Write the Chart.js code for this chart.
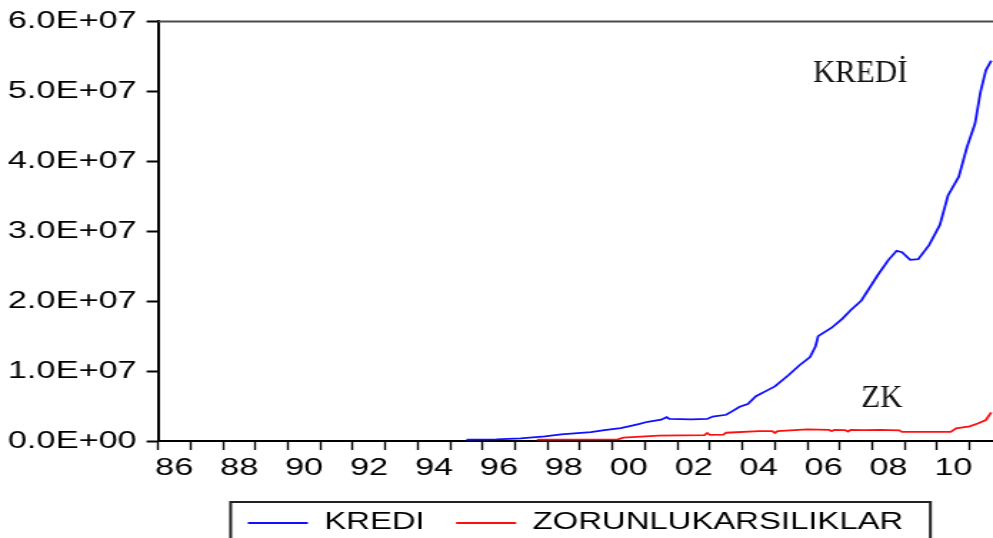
<!DOCTYPE html>
<html>
<head>
<meta charset="utf-8">
<title>KREDI ve ZORUNLUKARSILIKLAR</title>
<script src="https://cdn.jsdelivr.net/npm/chart.js@4.4.1/dist/chart.umd.min.js"></script>
<style>
  html, body { margin: 0; padding: 0; background: #fff; overflow: hidden; }
  #wrap { width: 993px; height: 538px; overflow: hidden; }
  #chart { display: block; transform-origin: 0 0; }
</style>
</head>
<body>
<div id="wrap"><canvas id="chart" width="695" height="538"></canvas></div>
<script>
// Observation dates (YYYY-MM) and values for each series
const krediDates = [
  '1995-07','1996-06','1997-03','1997-12','1998-06','1999-05','1999-10','2000-04',
  '2000-07','2000-11','2001-02','2001-07','2001-09','2001-10','2002-06','2002-12',
  '2003-02','2003-07','2003-09','2003-12','2004-03','2004-06','2004-10','2005-01',
  '2005-06','2005-10','2006-02','2006-04','2006-05','2006-10','2007-02','2007-05',
  '2007-09','2008-03','2008-07','2008-10','2008-12','2009-03','2009-06','2009-10',
  '2010-02','2010-05','2010-09','2010-12','2011-03','2011-05','2011-07','2011-09'
];
const krediValues = [
  200000, 220000, 380000, 670000, 950000, 1270000, 1570000, 1850000,
  2100000, 2450000, 2750000, 3050000, 3400000, 3150000, 3100000, 3150000,
  3500000, 3750000, 4200000, 4900000, 5300000, 6400000, 7200000, 7800000,
  9400000, 10800000, 12000000, 13500000, 15000000, 16200000, 17500000, 18700000,
  20100000, 23700000, 25900000, 27200000, 27000000, 25900000, 26000000, 28000000,
  30900000, 35100000, 37800000, 42000000, 45400000, 49900000, 53000000, 54400000
];

const zkDates = [
  '1997-09','2000-03','2000-05','2001-06','2002-11','2002-12','2003-01','2003-06',
  '2003-07','2004-07','2004-12','2005-01','2005-02','2006-01','2006-09','2006-10',
  '2006-11','2007-03','2007-04','2007-05','2007-10','2008-04','2008-11','2008-12',
  '2010-06','2010-08','2011-01','2011-04','2011-07','2011-09'
];
const zkValues = [
  200000, 230000, 480000, 780000, 850000, 1150000, 870000, 900000,
  1180000, 1400000, 1420000, 1150000, 1430000, 1650000, 1600000, 1400000,
  1600000, 1560000, 1350000, 1580000, 1550000, 1600000, 1520000, 1300000,
  1300000, 1800000, 2100000, 2500000, 3000000, 4100000
];

const seriesNames = ['KREDI', 'ZORUNLUKARSILIKLAR'];

// Axis range and ticks
const firstYear = 1986;
const lastYear = 2011;
const yMin = 0;
const yMax = 60000000;
const yStep = 10000000;

// Horizontal stretch of the whole graphic (axis text is drawn wide)
const STRETCH = 993 / 695;
document.getElementById('chart').style.transform = 'scaleX(' + STRETCH + ')';

const yearTicks = [];
for (let y = firstYear; y <= lastYear; y++) yearTicks.push(y);

function toYear(d) {
  const [y, m] = d.split('-').map(Number);
  return y + (m - 1) / 12;
}

function sciLabel(v) {
  if (v === 0) return '0.0E+00';
  const e = Math.floor(Math.log10(Math.abs(v)) + 1e-9);
  const m = v / Math.pow(10, e);
  return m.toFixed(1) + 'E' + (e < 0 ? '-' : '+') + String(Math.abs(e)).padStart(2, '0');
}

const AXIS_FONT = { family: '"Liberation Sans", Arial, sans-serif', size: 24 };

// Frame line, legend box and the in-plot series names
const framePlugin = {
  id: 'frameAndNotes',
  afterDraw(chart, args, opts) {
    const { ctx, chartArea, scales } = chart;
    ctx.save();
    // top frame
    ctx.strokeStyle = '#4a4a4a';
    ctx.lineWidth = 2;
    ctx.beginPath();
    ctx.moveTo(chartArea.left, chartArea.top);
    ctx.lineTo(chartArea.right, chartArea.top);
    ctx.stroke();

    // legend border
    const lg = chart.legend;
    if (lg && lg.legendHitBoxes && lg.legendHitBoxes.length) {
      const hb = lg.legendHitBoxes;
      const first = hb[0], last = hb[hb.length - 1];
      const midY = first.top + first.height / 2;
      const left = first.left - 12;
      const right = last.left + last.width + 19;
      ctx.strokeStyle = '#222';
      ctx.lineWidth = 2;
      ctx.beginPath();
      ctx.moveTo(left, chart.height + 4);
      ctx.lineTo(left, midY - 21);
      ctx.lineTo(right, midY - 21);
      ctx.lineTo(right, chart.height + 4);
      ctx.stroke();
    }

    // series names inside the plot (not stretched)
    ctx.fillStyle = '#111';
    ctx.font = '31px "Liberation Serif", "Times New Roman", serif';
    ctx.textAlign = 'center';
    ctx.textBaseline = 'alphabetic';
    for (const n of opts.notes) {
      const px = scales.x.getPixelForValue(n.x);
      const py = scales.y.getPixelForValue(n.y);
      ctx.save();
      ctx.translate(px, py);
      ctx.scale(1 / STRETCH, 1);
      ctx.fillText(n.text, 0, 0);
      ctx.restore();
    }
    ctx.restore();
  }
};

new Chart(document.getElementById('chart'), {
  type: 'line',
  data: {
    datasets: [
      {
        label: seriesNames[0],
        data: krediDates.map((d, i) => ({ x: toYear(d), y: krediValues[i] })),
        borderColor: '#1010ff',
        backgroundColor: '#1010ff',
        borderWidth: 1.8,
        pointRadius: 0,
        tension: 0
      },
      {
        label: seriesNames[1],
        data: zkDates.map((d, i) => ({ x: toYear(d), y: zkValues[i] })),
        borderColor: '#ff1010',
        backgroundColor: '#ff1010',
        borderWidth: 1.8,
        pointRadius: 0,
        tension: 0
      }
    ]
  },
  options: {
    responsive: false,
    animation: false,
    events: [],
    layout: { padding: { left: 0, right: 0, top: 20, bottom: -6.5 } },
    scales: {
      x: {
        type: 'linear',
        min: firstYear,
        max: 2011.72,
        afterBuildTicks: s => { s.ticks = yearTicks.map(v => ({ value: v })); },
        afterFit: s => { s.height = 48.5; },
        ticks: {
          autoSkip: false,
          maxRotation: 0,
          minRotation: 0,
          padding: 4,
          labelOffset: 11.36,
          color: '#000',
          font: AXIS_FONT,
          callback: v => (v % 2 === 0 ? String(v % 100).padStart(2, '0') : '')
        },
        grid: { drawOnChartArea: false, drawTicks: true, tickLength: 9, tickWidth: 1.4, tickColor: '#000' },
        border: { display: true, color: '#000', width: 2 }
      },
      y: {
        min: yMin,
        max: yMax,
        afterFit: s => { s.width = 110.6; },
        ticks: {
          stepSize: yStep,
          padding: 7,
          color: '#000',
          font: AXIS_FONT,
          callback: v => sciLabel(v)
        },
        grid: { drawOnChartArea: false, drawTicks: true, tickLength: 8, tickWidth: 2, tickColor: '#000' },
        border: { display: true, color: '#000', width: 2 }
      }
    },
    plugins: {
      legend: {
        position: 'bottom',
        fullSize: false,
        labels: {
          usePointStyle: true,
          pointStyle: 'line',
          pointStyleWidth: 42,
          padding: 22,
          color: '#000',
          font: { family: '"Liberation Sans", Arial, sans-serif', size: 23 }
        }
      },
      tooltip: { enabled: false },
      frameAndNotes: {
        notes: [
          { text: 'KREDİ', x: 2007.63, y: 51300000 },
          { text: 'ZK', x: 2008.3, y: 4860000 }
        ]
      }
    }
  },
  plugins: [framePlugin]
});
</script>
</body>
</html>
